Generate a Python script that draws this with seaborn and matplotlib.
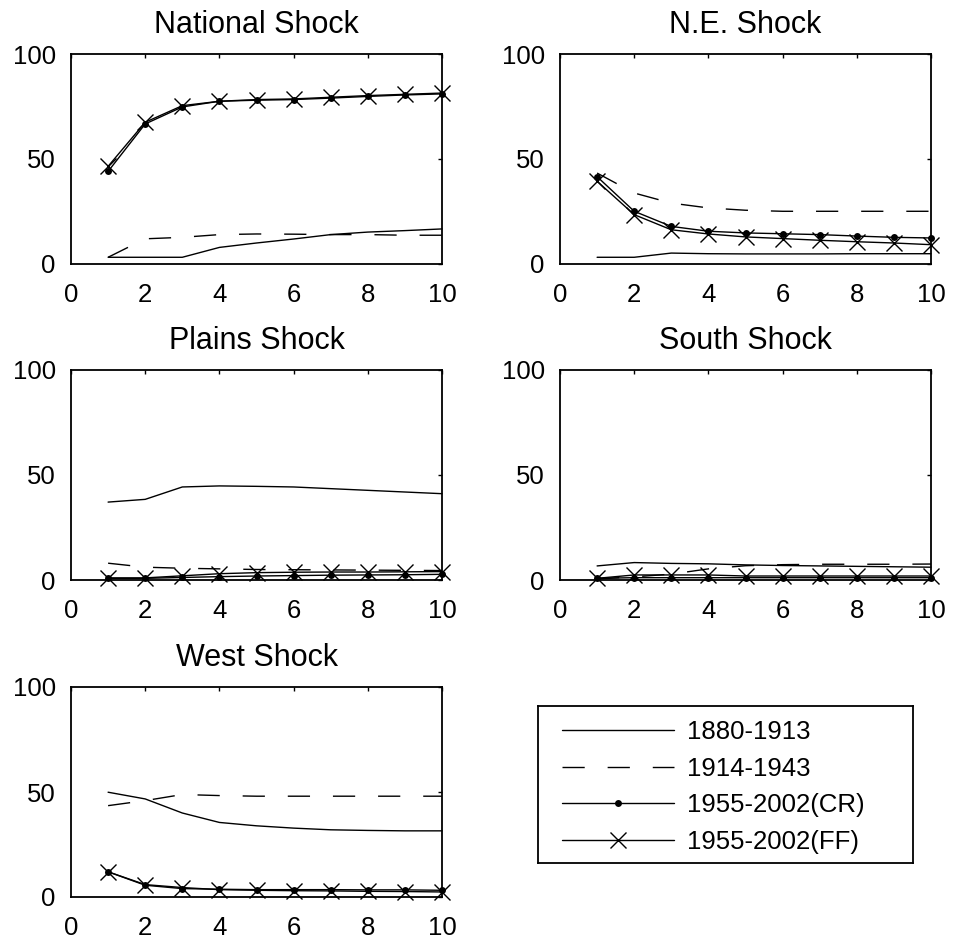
import numpy as np
import pandas as pd
import matplotlib
matplotlib.use("Agg")
import matplotlib.pyplot as plt
from matplotlib.lines import Line2D
import seaborn as sns

# horizon (years after shock)
horizon = list(range(1, 11))

shocks = ["National Shock", "N.E. Shock", "Plains Shock", "South Shock", "West Shock"]
periods = ["1880-1913", "1914-1943", "1955-2002(CR)", "1955-2002(FF)"]

# values, per shock and period
national_1880 = [3.2, 3.2, 3.2, 7.9, 10.0, 11.9, 14.0, 15.2, 15.9, 16.7]
national_1914 = [3.2, 12.0, 12.7, 14.0, 14.3, 14.2, 14.0, 14.0, 13.7, 13.7]
national_cr = [44.1, 66.7, 74.8, 77.5, 78.0, 78.3, 79.0, 79.8, 80.5, 81.0]
national_ff = [46.5, 67.5, 75.4, 77.5, 78.3, 78.6, 79.4, 80.2, 80.8, 81.4]

ne_1880 = [3.2, 3.2, 5.2, 4.9, 4.8, 4.8, 4.8, 4.9, 4.9, 4.9]
ne_1914 = [43.3, 33.8, 29.0, 26.7, 25.6, 25.1, 25.1, 25.1, 25.1, 25.1]
ne_cr = [41.6, 25.1, 17.9, 15.6, 14.8, 14.4, 14.0, 13.3, 12.7, 12.4]
ne_ff = [39.4, 23.5, 16.3, 14.3, 12.9, 12.1, 11.3, 10.6, 10.0, 9.2]

plains_1880 = [37.1, 38.4, 44.3, 44.8, 44.6, 44.3, 43.5, 42.7, 41.9, 41.1]
plains_1914 = [8.0, 6.1, 5.6, 5.3, 5.0, 4.9, 4.8, 4.7, 4.6, 4.5]
plains_cr = [0.8, 0.8, 1.2, 1.6, 1.9, 2.1, 2.3, 2.4, 2.5, 2.7]
plains_ff = [1.0, 1.0, 2.0, 3.0, 3.5, 3.7, 3.8, 3.8, 3.9, 4.0]

south_1880 = [6.7, 8.3, 7.9, 7.7, 7.2, 6.9, 6.7, 6.5, 6.3, 6.1]
south_1914 = [0.5, 1.5, 2.8, 5.3, 6.8, 7.3, 7.5, 7.5, 7.5, 7.6]
south_cr = [0.8, 1.1, 1.1, 1.1, 1.1, 1.1, 1.1, 1.1, 1.1, 1.1]
south_ff = [0.8, 2.4, 2.4, 2.4, 1.9, 1.9, 1.9, 1.9, 1.9, 1.9]

west_1880 = [49.9, 46.7, 40.0, 35.5, 33.9, 32.8, 32.0, 31.7, 31.5, 31.5]
west_1914 = [43.5, 45.9, 48.8, 48.3, 48.0, 48.0, 48.0, 48.0, 48.0, 48.0]
west_cr = [12.0, 5.6, 4.0, 3.7, 3.5, 3.5, 3.5, 3.4, 3.4, 3.2]
west_ff = [12.0, 5.9, 4.5, 3.5, 3.2, 3.0, 2.9, 2.7, 2.6, 2.4]

series = {
    "National Shock": [national_1880, national_1914, national_cr, national_ff],
    "N.E. Shock": [ne_1880, ne_1914, ne_cr, ne_ff],
    "Plains Shock": [plains_1880, plains_1914, plains_cr, plains_ff],
    "South Shock": [south_1880, south_1914, south_cr, south_ff],
    "West Shock": [west_1880, west_1914, west_cr, west_ff],
}

rows = []
for shock in shocks:
    for period, vals in zip(periods, series[shock]):
        for h, v in zip(horizon, vals):
            rows.append({"shock": shock, "period": period, "horizon": h, "value": v})
df = pd.DataFrame(rows)

sns.set_style("white")
plt.rcParams["font.family"] = ["Liberation Sans", "DejaVu Sans"]
plt.rcParams["lines.scale_dashes"] = False
plt.rcParams["text.color"] = "black"
plt.rcParams["axes.titlecolor"] = "black"

FS = 18.5      # tick / legend text
TFS = 22       # panel titles
LW = 1.0

# line style per period (matlab-like: solid, dashed, dot markers, x markers)
styles = {
    "1880-1913": dict(linestyle="-", marker=None),
    "1914-1943": dict(linestyle=(0, (16, 16.5)), marker=None),
    "1955-2002(CR)": dict(linestyle="-", marker="o", markersize=5,
                          markerfacecolor="black", markeredgecolor="black",
                          markeredgewidth=0),
    "1955-2002(FF)": dict(linestyle="-", marker="x", markersize=12,
                          markeredgecolor="black", markeredgewidth=LW),
}

fig = plt.figure(figsize=(9.54, 9.42), dpi=100)

W, H = 954, 942
lefts = [71, 560]
bottoms = [264, 580, 897]
aw, ah = 371, 210

positions = [
    (lefts[0], bottoms[0]), (lefts[1], bottoms[0]),
    (lefts[0], bottoms[1]), (lefts[1], bottoms[1]),
    (lefts[0], bottoms[2]),
]

for shock, (px, py) in zip(shocks, positions):
    ax = fig.add_axes([px / W, 1 - py / H, aw / W, ah / H])
    sub = df[df["shock"] == shock]
    for period in periods:
        d = sub[sub["period"] == period]
        sns.lineplot(data=d, x="horizon", y="value", ax=ax, color="black",
                     linewidth=LW, clip_on=False, **styles[period])
    ax.set_xlim(0, 10)
    ax.set_ylim(0, 100)
    ax.set_xticks([0, 2, 4, 6, 8, 10])
    ax.set_yticks([0, 50, 100])
    ax.set_xlabel("")
    ax.set_ylabel("")
    ax.set_title(shock, fontsize=TFS, pad=15, color="black")
    ax.tick_params(axis="both", direction="in", length=3, width=1,
                   top=True, right=True, labelsize=FS, colors="black",
                   labelcolor="black")
    ax.tick_params(axis="x", pad=13.5)
    ax.tick_params(axis="y", pad=11)
    for s in ax.spines.values():
        s.set_visible(True)
        s.set_color("black")
        s.set_linewidth(1.3)

# legend box in the empty sixth slot
lax = fig.add_axes([538 / W, 1 - 863 / H, 375 / W, 157 / H])
lax.set_xticks([])
lax.set_yticks([])
for s in lax.spines.values():
    s.set_visible(True)
    s.set_color("black")
    s.set_linewidth(1.3)

handles = [
    Line2D([], [], color="black", linewidth=LW, **styles[p]) for p in periods
]
leg = lax.legend(handles, periods, loc="center left",
                 bbox_to_anchor=(24 / 375, 0.484), frameon=False,
                 fontsize=FS, handlelength=4.36, handletextpad=0.5,
                 labelspacing=0.5, borderpad=0, borderaxespad=0)
for t in leg.get_texts():
    t.set_color("black")

fig.savefig("out.png", dpi=100)
